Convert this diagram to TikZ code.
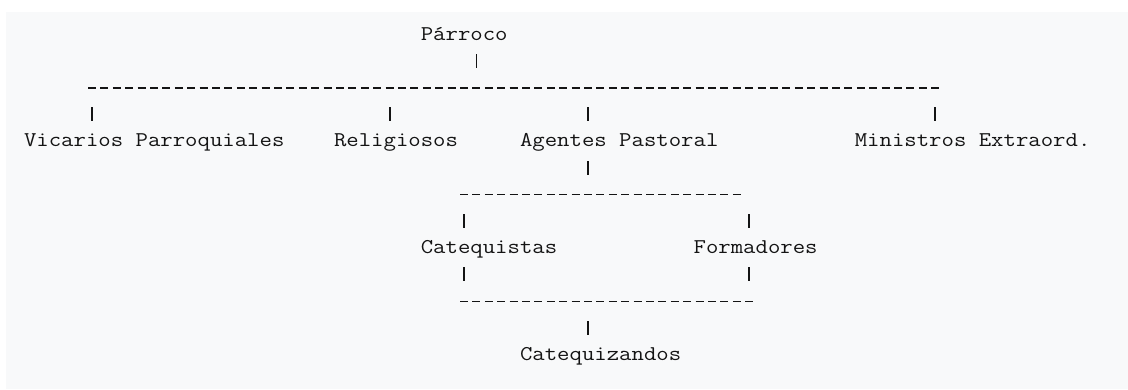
\documentclass[tikz,border=0pt]{standalone}
\usepackage{xcolor}
\usepackage{graphicx}
\definecolor{panelgray}{RGB}{248,249,250}
\definecolor{ink}{RGB}{20,20,20}
\newdimen\cellw
\cellw=12.4pt
\newcommand{\cells}[2]{\resizebox{#1\cellw}{\height}{#2}}

\begin{document}
\begin{tikzpicture}[
    txt/.style={
        anchor=base west, inner sep=0pt, text=ink,
        font=\ttfamily\fontsize{21pt}{21pt}\selectfont
    },
    vbar/.style={
        fill=ink, inner sep=0pt, minimum width=1.8pt,
        minimum height=14pt, anchor=south, yshift=-1.5pt
    },
    dashrow/.style={ink, line width=1.6pt, dash pattern=on 8pt off 4.4pt}
]
    \useasboundingbox (0pt,0pt) rectangle (1128pt,-389pt);
    \fill[white] (0pt,0pt) rectangle (1128pt,-389pt);
    \fill[panelgray] (6pt,-12pt) rectangle (1128pt,-389pt);

    \begin{scope}[x=12.4pt, y=-26.67pt, shift={(23.8pt,-40pt)}]
    \node[txt] (parroco) at (32,0) {\cells{7}{Párroco}};
    \node[vbar] (barP) at (36.5,1) {};

    \coordinate (busAw) at (5.18,1.8);
    \coordinate (busAe) at (73.82,1.8);
    \draw[dashrow] (busAw) -- (busAe);

    \node[vbar] (barV) at (5.5,3) {};
    \node[vbar] (barR) at (29.5,3) {};
    \node[vbar] (barA) at (45.5,3) {};
    \node[vbar] (barM) at (73.5,3) {};

    \node[txt] (vicarios) at (0,4) {\cells{21}{Vicarios Parroquiales}};
    \node[txt] (religiosos) at (25,4) {\cells{10}{Religiosos}};
    \node[txt] (agentes) at (40,4) {\cells{16}{Agentes Pastoral}};
    \node[txt] (ministros) at (67,4) {\cells{19}{Ministros Extraord.}};

    \node[vbar] (barAg) at (45.5,5) {};

    \coordinate (busBw) at (35.18,5.8);
    \coordinate (busBe) at (57.82,5.8);
    \draw[dashrow] (busBw) -- (busBe);

    \node[vbar] (barC1) at (35.5,7) {};
    \node[vbar] (barF1) at (58.5,7) {};

    \node[txt] (catequistas) at (32,8) {\cells{11}{Catequistas}};
    \node[txt] (formadores) at (54,8) {\cells{10}{Formadores}};

    \node[vbar] (barC2) at (35.5,9) {};
    \node[vbar] (barF2) at (58.5,9) {};

    \coordinate (busCw) at (35.18,9.8);
    \coordinate (busCe) at (58.82,9.8);
    \draw[dashrow] (busCw) -- (busCe);

    \node[vbar] (barQ) at (45.5,11) {};
    \node[txt] (catequizandos) at (40,12) {\cells{13}{Catequizandos}};
    \end{scope}
\end{tikzpicture}
\end{document}
